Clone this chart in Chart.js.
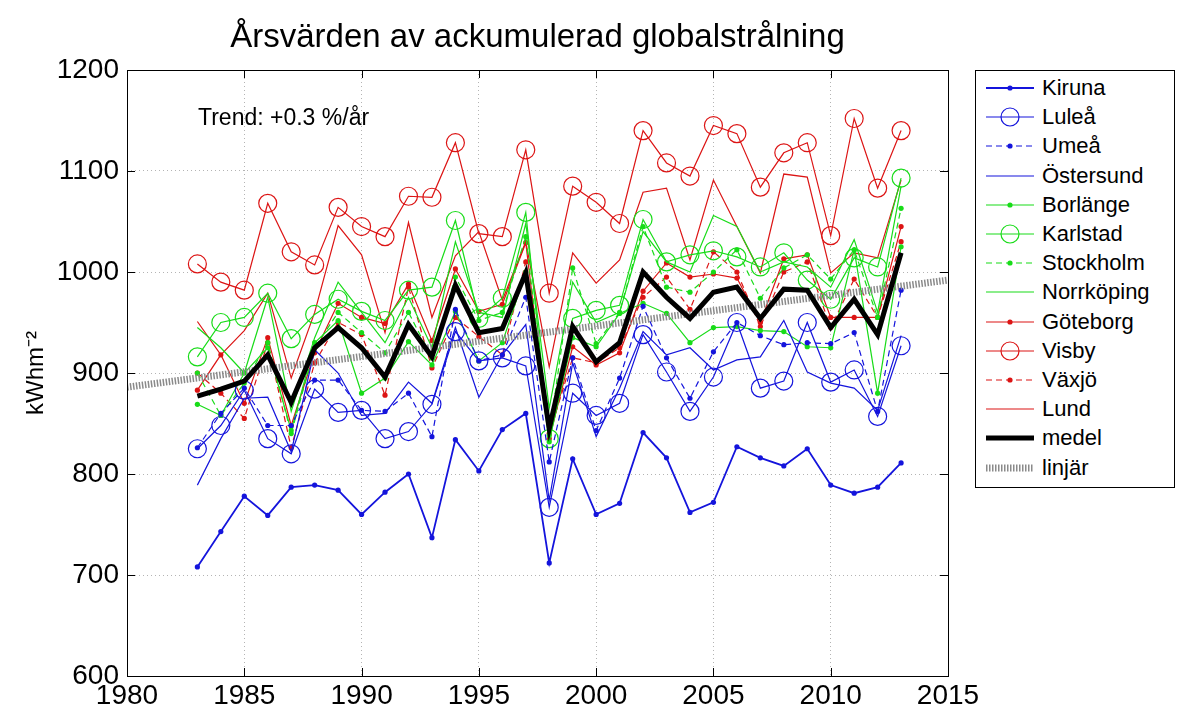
<!DOCTYPE html>
<html>
<head>
<meta charset="utf-8">
<script src="https://cdn.jsdelivr.net/npm/chart.js@4/dist/chart.umd.min.js"></script>
<style>
  body { margin: 0; background: #fff; font-family: "Liberation Sans", Arial, sans-serif; }
  #wrap { position: relative; width: 1188px; height: 713px; }
  #legend { position: absolute; left: 975px; top: 70px; width: 200px; height: 418px;
            border: 1px solid #000; box-sizing: border-box; background: #fff; }
  .row { position: absolute; left: 0; height: 28px; width: 198px; }
  .row svg { position: absolute; left: 8px; top: 0; }
  .row span { position: absolute; left: 66px; top: 1px; font-size: 22px; color: #000; }
</style>
</head>
<body>
<div id="wrap">
  <canvas id="chart" width="1188" height="713"></canvas>
  <div id="legend"></div>
</div>
<script>
var years = [1983,1984,1985,1986,1987,1988,1989,1990,1991,1992,1993,1994,1995,1996,1997,1998,1999,2000,2001,2002,2003,2004,2005,2006,2007,2008,2009,2010,2011,2012,2013];

var kiruna     = [708,743,778,759,787,789,784,760,782,800,737,834,803,844,860,712,815,760,771,841,816,762,772,827,816,808,825,789,781,787,811];
var lulea      = [825,848,883,835,820,884,861,863,835,842,869,941,912,915,907,767,880,858,870,938,901,862,896,950,885,892,950,891,903,857,927];
var umea       = [826,860,885,848,848,893,893,863,862,880,837,963,912,918,975,812,915,843,895,966,915,875,921,950,937,928,930,929,940,862,982];
var ostersund  = [789,835,875,876,822,923,900,858,860,891,870,945,876,918,948,774,910,837,885,941,918,925,903,913,916,952,901,890,885,863,937];
var borlange   = [869,858,900,925,843,930,952,880,895,931,908,961,912,930,1000,832,935,926,959,969,959,930,945,946,942,941,926,925,1022,880,1025];
var karlstad   = [916,950,955,979,934,958,973,961,952,982,985,1051,954,974,1059,835,954,962,967,1052,1010,1017,1021,1015,1005,1019,992,973,1014,1005,1093];
var stockholm  = [900,858,890,930,840,925,960,940,920,960,915,995,952,960,1035,838,1004,929,960,1045,985,980,1000,1022,974,1004,1017,993,1022,955,1063];
var norrkoping = [945,925,900,975,862,935,990,960,930,975,925,1030,960,955,1048,865,990,950,960,1040,1010,1000,1056,1045,1000,1010,1005,985,1032,960,1085];
var goteborg   = [883,918,870,935,848,920,969,955,949,988,932,1003,961,968,1029,835,926,908,920,981,1009,995,998,994,950,1013,1017,955,955,955,1045];
var visby      = [1008,990,982,1068,1020,1007,1064,1045,1035,1075,1074,1128,1038,1035,1121,979,1085,1069,1048,1140,1108,1095,1145,1137,1084,1118,1128,1036,1152,1083,1140];
var vaxjo      = [900,880,855,930,826,910,950,938,878,985,905,955,936,918,1010,840,915,910,925,975,995,963,1020,1000,946,1000,1010,945,993,955,1030];
var lund       = [951,918,942,979,895,960,1046,1017,940,1049,955,1016,1040,972,1030,906,1019,989,1012,1079,1083,1012,1091,1045,999,1097,1094,999,1019,1014,1091];
var medel      = [877,884,892,918,871,925,945,925,896,948,916,987,940,944,999,845,946,911,930,1000,975,954,980,985,954,983,982,945,973,938,1019];

var trendYears  = [1980, 2015];
var trendValues = [886, 992];

var xTicks = [1980,1985,1990,1995,2000,2005,2010,2015];
var yTicks = [600,700,800,900,1000,1100,1200];

var BLUE = '#1414dc', GREEN = '#18dc18', RED = '#dc1414';
var FONT = '"Liberation Sans", Arial, sans-serif';

// name, values, colour, marker ('dot' | 'circle' | ''), dashed
var series = [
  ['Kiruna', kiruna, BLUE, 'dot', false],
  ['Luleå', lulea, BLUE, 'circle', false],
  ['Umeå', umea, BLUE, 'dot', true],
  ['Östersund', ostersund, BLUE, '', false],
  ['Borlänge', borlange, GREEN, 'dot', false],
  ['Karlstad', karlstad, GREEN, 'circle', false],
  ['Stockholm', stockholm, GREEN, 'dot', true],
  ['Norrköping', norrkoping, GREEN, '', false],
  ['Göteborg', goteborg, RED, 'dot', false],
  ['Visby', visby, RED, 'circle', false],
  ['Växjö', vaxjo, RED, 'dot', true],
  ['Lund', lund, RED, '', false]
];

function pts(xs, ys) {
  return xs.map(function (x, i) { return { x: x, y: ys[i] }; });
}

var datasets = series.map(function (s) {
  return {
    label: s[0],
    data: pts(years, s[1]),
    borderColor: s[2],
    borderWidth: s[0] === 'Kiruna' ? 1.8 : 1.2,
    borderDash: s[4] ? [6, 4] : [],
    pointStyle: 'circle',
    pointRadius: s[3] === 'circle' ? 9 : (s[3] === 'dot' ? 2.6 : 0),
    pointBorderWidth: s[3] === 'circle' ? 1.2 : 0,
    pointBorderColor: s[2],
    pointBackgroundColor: s[3] === 'circle' ? 'rgba(0,0,0,0)' : s[2],
    tension: 0,
    order: 2
  };
});

datasets.push({
  label: 'medel', data: pts(years, medel), borderColor: '#000', borderWidth: 5,
  pointRadius: 0, tension: 0, order: 0
});
datasets.push({
  label: 'linjär', data: pts(trendYears, trendValues), borderColor: '#8a8a8a', borderWidth: 7,
  borderDash: [1.5, 1.5], borderCapStyle: 'butt', pointRadius: 0, tension: 0, order: 1
});

var boxPlugin = {
  id: 'box',
  afterDraw: function (chart) {
    var ctx = chart.ctx, a = chart.chartArea;
    var xs = chart.scales.x, ys = chart.scales.y;
    ctx.save();
    ctx.strokeStyle = '#000';
    ctx.lineWidth = 1;
    ctx.strokeRect(a.left + 0.5, a.top + 0.5, a.right - a.left, a.bottom - a.top);
    ctx.beginPath();
    xTicks.forEach(function (v) {
      var px = Math.round(xs.getPixelForValue(v)) + 0.5;
      ctx.moveTo(px, a.bottom); ctx.lineTo(px, a.bottom - 8);
      ctx.moveTo(px, a.top); ctx.lineTo(px, a.top + 8);
    });
    yTicks.forEach(function (v) {
      var py = Math.round(ys.getPixelForValue(v)) + 0.5;
      ctx.moveTo(a.left, py); ctx.lineTo(a.left + 8, py);
      ctx.moveTo(a.right, py); ctx.lineTo(a.right - 8, py);
    });
    ctx.stroke();
    ctx.fillStyle = '#000';
    ctx.textBaseline = 'middle';
    ctx.font = '33px ' + FONT;
    ctx.textAlign = 'center';
    ctx.fillText('Årsvärden av ackumulerad globalstrålning', (a.left + a.right) / 2, 38);
    ctx.font = '23px ' + FONT;
    ctx.textAlign = 'left';
    ctx.fillText('Trend: +0.3 %/år', 198, 119);
    ctx.restore();
  }
};

new Chart(document.getElementById('chart'), {
  type: 'line',
  data: { datasets: datasets },
  options: {
    responsive: false,
    animation: false,
    layout: { padding: { left: 22, right: 240, top: 70, bottom: 0 } },
    plugins: { legend: { display: false }, tooltip: { enabled: false }, title: { display: false } },
    scales: {
      x: {
        type: 'linear', min: 1980, max: 2015,
        afterBuildTicks: function (s) { s.ticks = xTicks.map(function (v) { return { value: v }; }); },
        afterFit: function (s) { s.height = 37; },
        grid: { color: '#b4b4b4', drawTicks: false, lineWidth: 1 },
        border: { display: false, dash: [1, 3] },
        ticks: { color: '#000', font: { size: 28, family: FONT }, padding: 3, maxRotation: 0,
                  callback: function (v) { return String(v); } }
      },
      y: {
        min: 600, max: 1200,
        afterBuildTicks: function (s) { s.ticks = yTicks.map(function (v) { return { value: v }; }); },
        afterFit: function (s) { s.width = 105; },
        grid: { color: '#b4b4b4', drawTicks: false, lineWidth: 1 },
        border: { display: false, dash: [1, 3] },
        ticks: { color: '#000', font: { size: 28, family: FONT }, padding: 8,
                 callback: function (v) { return String(v); } },
        title: { display: true, text: 'kWhm⁻²', color: '#000', font: { size: 24, family: FONT }, padding: 0 }
      }
    }
  },
  plugins: [boxPlugin]
});

// legend
var legend = document.getElementById('legend');
var entries = series.map(function (s) {
  return { name: s[0], color: s[2], marker: s[3], dash: s[4] ? '6,4' : '', width: s[0] === 'Kiruna' ? 1.8 : 1.2 };
});
entries.push({ name: 'medel', color: '#000', marker: '', dash: '', width: 5 });
entries.push({ name: 'linjär', color: '#8a8a8a', marker: '', dash: '1.5,1.5', width: 7 });
entries.forEach(function (e, i) {
  var row = document.createElement('div');
  row.className = 'row';
  row.style.top = (3 + i * 29.2) + 'px';
  var svg = '<svg width="52" height="28">' +
    '<line x1="2" y1="14" x2="50" y2="14" stroke="' + e.color + '" stroke-width="' + e.width + '"' +
    (e.dash ? ' stroke-dasharray="' + e.dash + '"' : '') + '/>';
  if (e.marker === 'dot') svg += '<circle cx="26" cy="14" r="2.6" fill="' + e.color + '"/>';
  if (e.marker === 'circle') svg += '<circle cx="26" cy="14" r="9" fill="none" stroke="' + e.color + '" stroke-width="1.2"/>';
  svg += '</svg>';
  row.innerHTML = svg + '<span>' + e.name + '</span>';
  legend.appendChild(row);
});
</script>
</body>
</html>
